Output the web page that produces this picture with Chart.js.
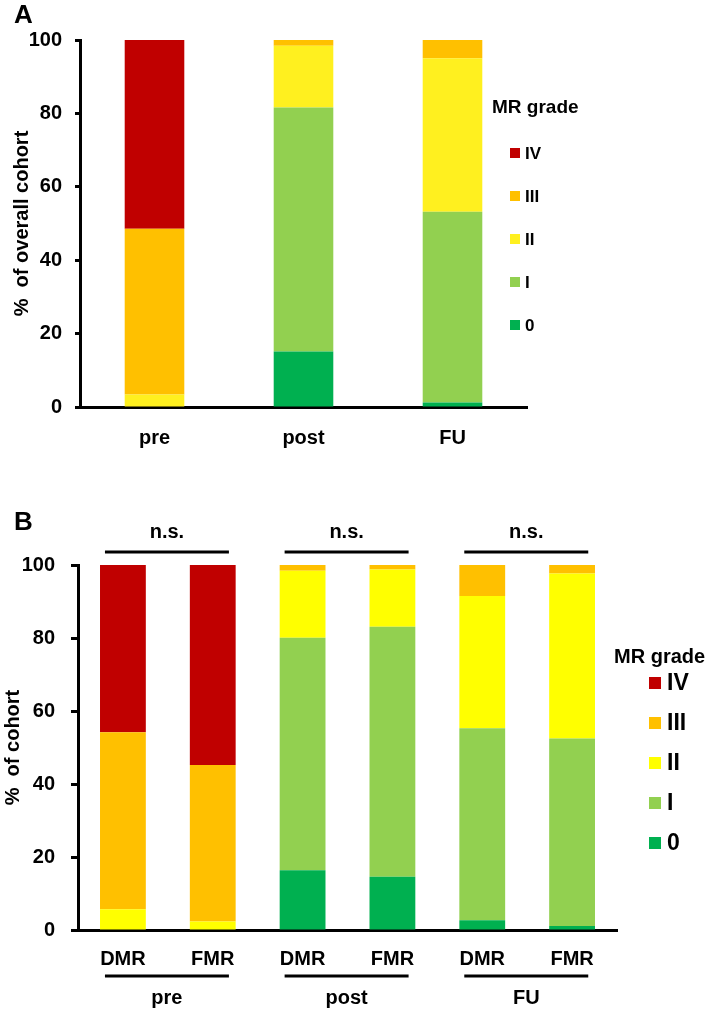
<!DOCTYPE html>
<html>
<head>
<meta charset="utf-8">
<script src="https://cdn.jsdelivr.net/npm/chart.js@4.4.1/dist/chart.umd.min.js"></script>
<style>
  body { margin: 0; background: #fff; width: 709px; height: 1014px; overflow: hidden; }
  .panel { position: absolute; left: 0; }
  #panelA { top: 0; }
  #panelB { top: 480px; }
</style>
</head>
<body>
<div class="panel" id="panelA"><canvas id="chartA" width="709" height="470"></canvas></div>
<div class="panel" id="panelB"><canvas id="chartB" width="709" height="534"></canvas></div>
<script>
// ---- panel A: overall cohort ----
const timepointsA = ['pre', 'post', 'FU'];
const gradeLabels = ['0', 'I', 'II', 'III', 'IV'];
const a0   = [0, 15.1, 1.2];
const aI   = [0, 66.5, 52.0];
const aII  = [3.4, 16.8, 41.8];
const aIII = [45.2, 1.6, 5.0];
const aIV  = [51.4, 0, 0];

// ---- panel B: DMR vs FMR ----
const groupsB = ['DMR', 'FMR', 'DMR', 'FMR', 'DMR', 'FMR'];
const timepointsB = ['pre', 'post', 'FU'];
const sigLabelsB = ['n.s.', 'n.s.', 'n.s.'];
const b0   = [0, 0, 16.4, 14.6, 2.7, 1.1];
const bI   = [0, 0, 63.7, 68.5, 52.6, 51.4];
const bII  = [5.7, 2.3, 18.3, 15.7, 36.2, 45.2];
const bIII = [48.5, 42.9, 1.6, 1.2, 8.5, 2.3];
const bIV  = [45.8, 54.8, 0, 0, 0, 0];

const FONT = "'Liberation Sans', Arial, Helvetica, sans-serif";
Chart.defaults.font.family = FONT;
Chart.defaults.color = '#000';

const colorsA = ['#00B050', '#92D050', '#FFF01F', '#FFC000', '#C00000'];
const colorsB = ['#00B050', '#92D050', '#FFFF00', '#FFC000', '#C00000'];

function makeDatasets(series, colors, barPct) {
	return series.map((vals, i) => ({
		label: gradeLabels[i],
		data: vals,
		backgroundColor: colors[i],
		borderWidth: 0,
		barPercentage: barPct,
		categoryPercentage: 1
	}));
}

// letters, custom legend, significance brackets and group labels
const decorPlugin = {
	id: 'decor',
	afterDraw(chart, args, opts) {
		const ctx = chart.ctx;
		const area = chart.chartArea;
		const xs = chart.scales.x;
		ctx.save();
		ctx.fillStyle = '#000';
		ctx.textBaseline = 'middle';

		ctx.textAlign = 'left';
		ctx.font = `bold 26px ${FONT}`;
		ctx.fillText(opts.letter, 14, opts.letterY);

		const lg = opts.legend;
		ctx.font = `bold ${lg.titleSize}px ${FONT}`;
		ctx.fillText('MR grade', lg.x, lg.titleY);
		const ds = chart.data.datasets.slice().reverse();
		ds.forEach((d, i) => {
			const y = lg.firstY + i * lg.step;
			ctx.fillStyle = d.backgroundColor;
			ctx.fillRect(lg.boxX, y - lg.box / 2, lg.box, lg.box);
			ctx.fillStyle = '#000';
			ctx.font = `bold ${lg.labelSize}px ${FONT}`;
			ctx.fillText(d.label, lg.boxX + lg.box + lg.gap, y + 1);
		});

		if (opts.groups) {
			const cw = (xs.right - xs.left) / chart.data.labels.length;
			ctx.strokeStyle = '#000';
			ctx.lineWidth = 3;
			ctx.textAlign = 'center';
			ctx.font = `bold 20px ${FONT}`;
			opts.groups.forEach((g, gi) => {
				const x1 = xs.getPixelForValue(gi * 2) - 0.2 * cw;
				const x2 = xs.getPixelForValue(gi * 2 + 1) + 0.18 * cw;
				const mid = (x1 + x2) / 2;
				ctx.beginPath();
				ctx.moveTo(x1, area.top - 13);
				ctx.lineTo(x2, area.top - 13);
				ctx.moveTo(x1, area.bottom + 46);
				ctx.lineTo(x2, area.bottom + 46);
				ctx.stroke();
				ctx.fillText(opts.sig[gi], mid, area.top - 33);
				ctx.fillText(g, mid, area.bottom + 68);
			});
		}
		ctx.restore();
	}
};

function buildOptions(cfg) {
	return {
		responsive: false,
		animation: false,
		layout: { padding: { top: cfg.padTop, right: cfg.padRight, left: 0, bottom: 0 } },
		plugins: {
			legend: { display: false },
			tooltip: { enabled: false },
			decor: cfg.decor
		},
		scales: {
			x: {
				stacked: true,
				ticks: { color: '#000', font: { size: 20, weight: 'bold' }, padding: cfg.xPad },
				grid: { display: false },
				border: { color: '#000', width: 3 },
				afterFit: s => { s.height = cfg.xHeight; }
			},
			y: {
				stacked: true,
				min: 0,
				max: 100,
				ticks: { stepSize: 20, color: '#000', font: { size: 20, weight: 'bold' }, padding: cfg.yPad },
				grid: { drawOnChartArea: false, drawTicks: true, tickLength: cfg.tickLen, tickWidth: 3, tickColor: '#000' },
				border: { color: '#000', width: 3 },
				title: { display: true, text: cfg.yTitle, color: '#000', font: { size: 20, weight: 'bold' }, padding: { top: cfg.titlePad, bottom: 0 } },
				afterFit: s => { s.width = cfg.yWidth; }
			}
		}
	};
}

new Chart(document.getElementById('chartA').getContext('2d'), {
	type: 'bar',
	data: { labels: timepointsA, datasets: makeDatasets([a0, aI, aII, aIII, aIV], colorsA, 0.4) },
	options: buildOptions({
		padTop: 40, padRight: 182, xPad: 11, xHeight: 63, yPad: 13, tickLen: 5, yWidth: 80, titlePad: 10,
		yTitle: '%  of overall cohort',
		decor: {
			letter: 'A', letterY: 16,
			legend: { x: 492, titleY: 108, boxX: 510, box: 10, gap: 5, firstY: 153, step: 43, titleSize: 19, labelSize: 17 }
		}
	}),
	plugins: [decorPlugin]
});

new Chart(document.getElementById('chartB').getContext('2d'), {
	type: 'bar',
	data: { labels: groupsB, datasets: makeDatasets([b0, bI, bII, bIII, bIV], colorsB, 0.51) },
	options: buildOptions({
		padTop: 85, padRight: 92, xPad: 9, xHeight: 84, yPad: 16, tickLen: 7, yWidth: 78, titlePad: 1,
		yTitle: '%  of cohort',
		decor: {
			letter: 'B', letterY: 43,
			groups: timepointsB, sig: sigLabelsB,
			legend: { x: 614, titleY: 177, boxX: 649, box: 12, gap: 6, firstY: 203, step: 40, titleSize: 20, labelSize: 23 }
		}
	}),
	plugins: [decorPlugin]
});
</script>
</body>
</html>
